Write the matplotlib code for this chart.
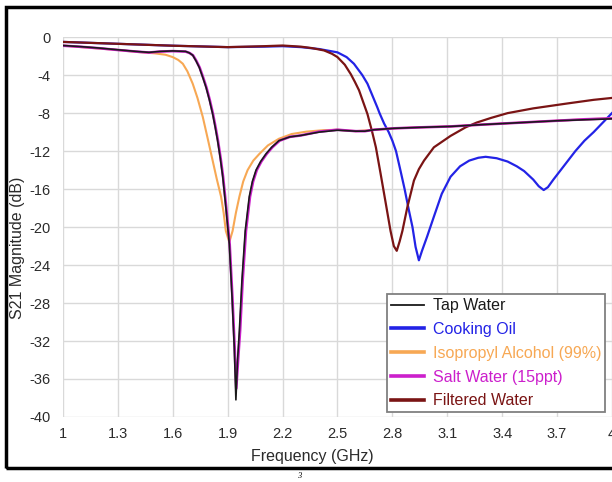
import matplotlib
matplotlib.use('Agg')
import matplotlib.pyplot as plt
from matplotlib.patches import Rectangle

plt.rcParams['font.family'] = ['Liberation Sans', 'DejaVu Sans']
plt.rcParams['axes.unicode_minus'] = False

# values (frequency in GHz, S21 in dB)
tap_f = [1.0, 1.1, 1.2, 1.3, 1.4, 1.47, 1.53, 1.6, 1.67, 1.69, 1.709, 1.727, 1.745, 1.765,
         1.782, 1.80, 1.818, 1.832, 1.845, 1.86, 1.873, 1.89, 1.909, 1.924, 1.936, 1.945,
         1.954, 1.964, 1.978, 1.996, 2.018, 2.035, 2.055, 2.08, 2.109, 2.14, 2.18, 2.24,
         2.3, 2.4, 2.5, 2.6, 2.65, 2.7, 2.81, 2.95, 3.12, 3.3, 3.5, 3.7, 3.85, 4.0]
tap_db = [-0.88, -1.0, -1.15, -1.33, -1.5, -1.6, -1.5, -1.45, -1.5, -1.65, -1.9, -2.5, -3.2,
          -4.3, -5.3, -6.6, -8.1, -9.5, -10.9, -12.8, -14.7, -17.9, -21.8, -27.4, -32.6,
          -38.2, -34.0, -30.9, -25.6, -20.4, -16.8, -15.2, -14.0, -13.1, -12.3, -11.6, -10.9,
          -10.5, -10.35, -10.0, -9.8, -9.9, -9.9, -9.75, -9.6, -9.5, -9.4, -9.2, -9.0, -8.8,
          -8.7, -8.6]

salt_f = [1.0, 1.1, 1.2, 1.3, 1.4, 1.47, 1.53, 1.6, 1.67, 1.692, 1.711, 1.729, 1.747, 1.767,
          1.784, 1.802, 1.82, 1.834, 1.847, 1.862, 1.875, 1.892, 1.911, 1.926, 1.938, 1.947,
          1.957, 1.968, 1.982, 2.0, 2.022, 2.039, 2.059, 2.084, 2.113, 2.144, 2.184, 2.24,
          2.3, 2.4, 2.5, 2.6, 2.65, 2.7, 2.81, 2.95, 3.12, 3.3, 3.5, 3.7, 3.85, 4.0]
salt_db = [-0.9, -1.02, -1.17, -1.35, -1.52, -1.62, -1.52, -1.47, -1.52, -1.67, -1.92, -2.5,
           -3.2, -4.3, -5.3, -6.6, -8.1, -9.5, -10.9, -12.8, -14.7, -17.9, -21.8, -27.4,
           -32.6, -37.0, -34.0, -30.9, -25.6, -20.4, -16.8, -15.2, -14.0, -13.1, -12.3, -11.6,
           -10.9, -10.5, -10.35, -9.95, -9.75, -9.9, -9.9, -9.75, -9.6, -9.5, -9.4, -9.2,
           -9.0, -8.8, -8.65, -8.55]

ipa_f = [1.0, 1.1, 1.2, 1.3, 1.4, 1.5, 1.56, 1.6, 1.63, 1.655, 1.68, 1.709, 1.735, 1.764,
         1.79, 1.818, 1.84, 1.864, 1.878, 1.89, 1.909, 1.927, 1.945, 1.964, 1.985, 2.009,
         2.04, 2.073, 2.12, 2.18, 2.25, 2.33, 2.42, 2.5, 2.6, 2.7, 2.81, 2.95, 3.12, 3.3,
         3.5, 3.7, 3.85, 4.0]
ipa_db = [-0.88, -1.05, -1.2, -1.35, -1.55, -1.7, -1.85, -2.1, -2.4, -2.8, -3.6, -4.9, -6.4,
          -8.4, -10.6, -13.0, -14.9, -16.8, -18.5, -20.4, -21.6, -20.4, -18.5, -16.8, -15.2,
          -14.0, -13.0, -12.3, -11.4, -10.7, -10.2, -9.95, -9.8, -9.75, -9.9, -9.75, -9.6,
          -9.5, -9.4, -9.2, -9.0, -8.8, -8.65, -8.55]

oil_f = [1.0, 1.3, 1.6, 1.9, 2.1, 2.2, 2.3, 2.4, 2.5, 2.55, 2.59, 2.636, 2.664, 2.69, 2.718,
         2.73, 2.755, 2.78, 2.8, 2.82, 2.845, 2.867, 2.89, 2.91, 2.927, 2.945, 2.962, 2.99,
         3.027, 3.07, 3.118, 3.17, 3.22, 3.27, 3.31, 3.37, 3.43, 3.48, 3.52, 3.57, 3.6,
         3.627, 3.65, 3.68, 3.72, 3.76, 3.8, 3.85, 3.9, 3.95, 4.0]
oil_db = [-0.5, -0.7, -0.9, -1.05, -1.0, -0.95, -1.05, -1.25, -1.6, -2.1, -2.8, -4.0, -4.9,
          -6.1, -7.4, -8.0, -9.1, -10.0, -10.9, -12.0, -14.1, -16.0, -18.2, -20.0, -22.1,
          -23.5, -22.5, -21.0, -18.9, -16.5, -14.7, -13.6, -13.0, -12.7, -12.6, -12.75,
          -13.1, -13.6, -14.1, -15.0, -15.7, -16.1, -15.8, -15.0, -14.0, -13.0, -12.0,
          -10.9, -10.0, -9.0, -8.0]

filt_f = [1.0, 1.3, 1.6, 1.9, 2.1, 2.2, 2.3, 2.36, 2.427, 2.47, 2.5, 2.54, 2.573, 2.595,
          2.618, 2.64, 2.664, 2.69, 2.71, 2.736, 2.764, 2.79, 2.808, 2.824, 2.84, 2.855,
          2.882, 2.918, 2.945, 2.973, 3.027, 3.118, 3.2, 3.26, 3.34, 3.43, 3.57, 3.75, 3.9,
          4.0]
filt_db = [-0.5, -0.7, -0.9, -1.05, -0.95, -0.88, -1.0, -1.15, -1.4, -1.75, -2.1, -2.9, -3.9,
           -4.7, -5.6, -6.8, -8.1, -10.0, -11.6, -14.4, -17.5, -20.4, -22.0, -22.5, -21.5,
           -20.4, -17.9, -15.1, -13.9, -13.0, -11.6, -10.4, -9.5, -9.0, -8.5, -8.0, -7.5,
           -7.0, -6.6, -6.4]

x_ticks = [1, 1.3, 1.6, 1.9, 2.2, 2.5, 2.8, 3.1, 3.4, 3.7, 4]
x_labels = ['1', '1.3', '1.6', '1.9', '2.2', '2.5', '2.8', '3.1', '3.4', '3.7', '4']
y_ticks = list(range(0, -41, -4))

c_tap = '#1a1a1a'
c_oil = '#2323e6'
c_ipa = '#f7a854'
c_salt = '#cc1fcc'
c_filt = '#7a1414'

fig = plt.figure(figsize=(6.12, 4.82), dpi=100)
ax = fig.add_axes([0.1029, 0.1349, 0.897, 0.788])

ax.plot(oil_f, oil_db, c=c_oil, lw=1.6, label='Cooking Oil', zorder=3)
ax.plot(filt_f, filt_db, c=c_filt, lw=1.6, label='Filtered Water', zorder=4)
ax.plot(ipa_f, ipa_db, c=c_ipa, lw=1.5, label='Isopropyl Alcohol (99%)', zorder=3)
ax.plot(salt_f, salt_db, c=c_salt, lw=1.9, label='Salt Water (15ppt)', zorder=5)
ax.plot(tap_f, tap_db, c=c_tap, lw=1.2, label='Tap Water', zorder=6)

ax.set_xlim(1, 4)
ax.set_ylim(-40, 0)
ax.set_xticks(x_ticks)
ax.set_xticklabels(x_labels)
ax.set_yticks(y_ticks)
ax.grid(True, color='#d9d9d9', lw=1.0)
ax.set_axisbelow(True)
for s in ax.spines.values():
    s.set_visible(False)
ax.tick_params(length=0, labelsize=10.5, colors='#2b2b2b')
ax.tick_params(axis='x', pad=7)
ax.tick_params(axis='y', pad=9)
ax.set_xlabel('Frequency (GHz)', fontsize=11.5, color='#2b2b2b', va='center')
ax.xaxis.set_label_coords(0.4536, -0.105)
ax.set_ylabel('S21 Magnitude (dB)', fontsize=11.5, color='#2b2b2b', va='center')
ax.yaxis.set_label_coords(-0.083, 0.445)

# legend in the reference order
handles, labels = ax.get_legend_handles_labels()
order = ['Tap Water', 'Cooking Oil', 'Isopropyl Alcohol (99%)', 'Salt Water (15ppt)',
         'Filtered Water']
hs = [handles[labels.index(n)] for n in order]
leg = ax.legend(hs, order, loc='lower right', bbox_to_anchor=(0.988, 0.012), fontsize=11.5,
                frameon=True, fancybox=False, edgecolor='#808080', framealpha=1,
                handlelength=2.1, labelspacing=0.55, borderpad=0.25, handletextpad=0.55,
                borderaxespad=0)
leg.get_frame().set_linewidth(1.3)
for txt, h in zip(leg.get_texts(), leg.get_lines()):
    txt.set_color(h.get_color())
    h.set_linewidth(1.3 if h.get_color() == c_tap else 2.6)

# black frame around the figure, cut off on the right as in the source
fig.add_artist(Rectangle((0.0098, 0.029), 1.1, 0.9565, transform=fig.transFigure,
                         fill=False, edgecolor='black', lw=2.5))
fig.text(0.485, 0.008, '3', fontsize=6, style='italic', family='Liberation Serif')

fig.savefig('out.png', dpi=100)
